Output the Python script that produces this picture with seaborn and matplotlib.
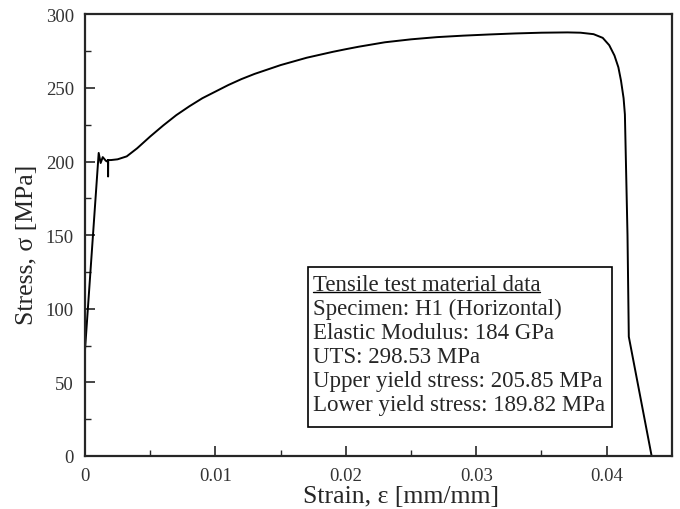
import matplotlib
matplotlib.use("Agg")
import matplotlib.pyplot as plt
import seaborn as sns
import pandas as pd
from matplotlib.lines import Line2D
from matplotlib.patches import Rectangle

# ---- data ----
strain = [0.0, 0.00105, 0.00120, 0.00136, 0.00160, 0.00170, 0.00176, 0.00177, 0.00178,
          0.00200, 0.00250, 0.00320, 0.0040, 0.0050, 0.0060, 0.0070, 0.0080, 0.0090,
          0.0100, 0.0110, 0.0120, 0.0130, 0.0140, 0.0150, 0.0160, 0.0170, 0.0180,
          0.0190, 0.0200, 0.0210, 0.0220, 0.0230, 0.0250, 0.0270, 0.0290, 0.0310,
          0.0330, 0.0350, 0.0370, 0.0380, 0.0390, 0.0397, 0.0402, 0.0406, 0.0409,
          0.0411, 0.0413, 0.0414, 0.0416, 0.0417, 0.04345]
stress = [72.0, 205.85, 199.0, 203.0, 200.5, 200.0, 201.0, 189.82, 201.0,
          201.0, 201.5, 203.5, 209.0, 217.0, 224.5, 231.5, 237.5, 243.0,
          247.5, 252.0, 256.0, 259.5, 262.5, 265.5, 268.0, 270.5, 272.5,
          274.5, 276.3, 278.0, 279.5, 281.0, 283.0, 284.5, 285.5, 286.3,
          287.0, 287.5, 287.7, 287.5, 286.5, 284.0, 279.0, 272.0, 264.0,
          255.0, 243.0, 232.0, 150.0, 81.0, 0.0]

x_ticks = [0, 0.01, 0.02, 0.03, 0.04]
x_tick_labels = ["0", "0.01", "0.02", "0.03", "0.04"]
y_ticks = [0, 50, 100, 150, 200, 250, 300]

box_title = "Tensile test material data"
box_lines = ["Specimen: H1 (Horizontal)",
             "Elastic Modulus: 184 GPa",
             "UTS: 298.53 MPa",
             "Upper yield stress: 205.85 MPa",
             "Lower yield stress: 189.82 MPa"]

df = pd.DataFrame({"strain": strain, "stress": stress})

sns.set_style("ticks")
plt.rcParams["font.family"] = ["Liberation Serif", "DejaVu Serif"]

fig = plt.figure(figsize=(6.8, 5.1), dpi=100)
ax = fig.add_axes([0.125, 0.104, 0.863, 0.866])

sns.lineplot(data=df, x="strain", y="stress", sort=False, estimator=None,
             color="black", linewidth=1.4, ax=ax)

ax.set_xlim(0, 0.045)
ax.set_ylim(0, 300)
ax.set_xticks(x_ticks)
ax.set_xticklabels(x_tick_labels)
ax.set_yticks(y_ticks)
ax.set_xticks([0.005, 0.015, 0.025, 0.035], minor=True)
ax.set_yticks([25, 75, 125, 175, 225, 275], minor=True)
ax.tick_params(which="major", direction="in", length=7, width=1.2,
               labelsize=13.5, labelcolor="#333333", top=False, right=False)
ax.tick_params(axis="x", which="major", pad=8)
ax.tick_params(axis="y", which="major", pad=8)
ax.tick_params(which="minor", direction="in", length=4, width=1.0,
               top=False, right=False)
for s in ax.spines.values():
    s.set_linewidth(1.6)
    s.set_visible(True)

ax.set_xlabel("Strain, ε [mm/mm]", fontsize=18.5)
ax.set_ylabel("Stress, σ [MPa]", fontsize=18.5)
ax.xaxis.set_label_coords(0.538, -0.066, transform=ax.transAxes)
ax.xaxis.label.set_va("top")
ax.yaxis.set_label_coords(-0.08, 0.48, transform=ax.transAxes)

# info box
bx0, by0, bx1, by1 = 0.38, 0.0656, 0.898, 0.4276
ax.add_patch(Rectangle((bx0, by0), bx1 - bx0, by1 - by0, transform=ax.transAxes,
                       fill=True, facecolor="white", edgecolor="black",
                       linewidth=1.2, zorder=5))
tx = 0.388
ty0 = 0.389
dy = 0.0543
t = ax.text(tx, ty0, box_title, transform=ax.transAxes, fontsize=16.5,
            va="center", ha="left", zorder=6)
for i, line in enumerate(box_lines):
    ax.text(tx, ty0 - (i + 1) * dy, line, transform=ax.transAxes, fontsize=16.5,
            va="center", ha="left", zorder=6)

fig.canvas.draw()
bb = t.get_window_extent(renderer=fig.canvas.get_renderer())
inv = fig.transFigure.inverted()
(x0f, y0f) = inv.transform((bb.x0, bb.y0 + 3))
(x1f, _) = inv.transform((bb.x1, bb.y0 + 3))
fig.add_artist(Line2D([x0f, x1f], [y0f, y0f], color="black", linewidth=1.0,
                      transform=fig.transFigure, zorder=7))

fig.savefig("out.png", dpi=100)
